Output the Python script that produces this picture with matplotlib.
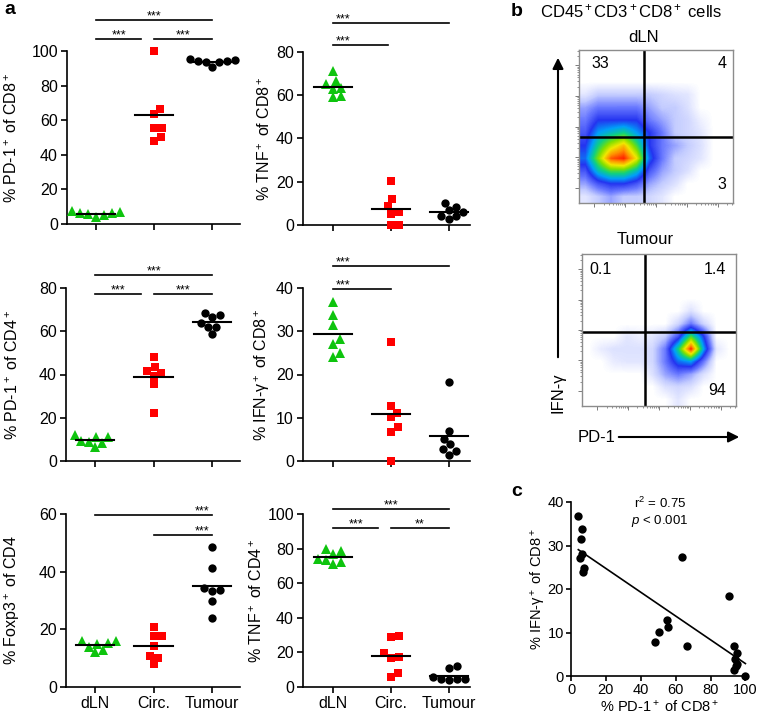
"""
Recreate: PD-1 / cytokine scatter dot plots, flow plots and correlation
"""
import matplotlib

matplotlib.use("Agg")
import matplotlib.pyplot as plt
import numpy as np
from matplotlib.colors import LinearSegmentedColormap

plt.rcParams["font.family"] = ["Liberation Sans", "DejaVu Sans"]
plt.rcParams["mathtext.fontset"] = "custom"
plt.rcParams["mathtext.rm"] = "Liberation Sans"
plt.rcParams["mathtext.it"] = "Liberation Sans:italic"
plt.rcParams["mathtext.default"] = "regular"

groups = ["dLN", "Circ.", "Tumour"]

# values (7 mice per group)
pd1_cd8_dln = [4.2, 6.1, 5.7, 6.5, 5.0, 7.7, 6.9]
pd1_cd8_circ = [63.4, 55.3, 55.7, 50.3, 48.0, 66.6, 100.0]
pd1_cd8_tum = [90.8, 93.7, 95.2, 94.0, 95.0, 94.5, 93.7]

tnf_cd8_dln = [71.0, 66.5, 65.0, 63.5, 63.0, 59.0, 59.5]
tnf_cd8_circ = [20.5, 11.9, 8.6, 6.0, 5.1, 0.0, 0.0]
tnf_cd8_tum = [10.2, 8.2, 6.9, 6.2, 4.2, 4.2, 2.6]

pd1_cd4_dln = [12.0, 8.9, 11.0, 11.0, 9.4, 8.2, 6.3]
pd1_cd4_circ = [48.2, 43.3, 41.8, 40.8, 39.4, 35.5, 22.3]
pd1_cd4_tum = [68.6, 66.7, 67.7, 61.8, 63.7, 62.1, 58.6]

ifn_cd8_dln = [36.8, 33.8, 31.4, 28.1, 27.1, 24.9, 24.0]
ifn_cd8_circ = [27.4, 12.8, 11.2, 10.1, 7.8, 6.8, 0.0]
ifn_cd8_tum = [18.3, 6.9, 5.2, 3.9, 2.8, 2.2, 1.4]

foxp3_cd4_dln = [16.1, 15.2, 12.3, 15.0, 12.8, 15.8, 14.0]
foxp3_cd4_circ = [20.9, 17.7, 17.7, 14.2, 10.9, 10.2, 7.9]
foxp3_cd4_tum = [48.7, 41.4, 33.4, 33.6, 34.2, 29.9, 23.8]

tnf_cd4_dln = [79.5, 78.5, 77.0, 74.0, 71.0, 72.0, 73.5]
tnf_cd4_circ = [28.7, 29.5, 19.5, 17.5, 16.6, 6.0, 7.9]
tnf_cd4_tum = [12.1, 10.8, 6.0, 4.8, 4.4, 4.4, 4.0]

# flow plots: rough event density per cell (0 = empty .. 9 = peak), top row first
dln_density = [
    [0, 0, 0, 0, 0, 0, 0, 0, 0, 0, 0, 0],
    [0, 0, 0, 0, 0, 0, 0, 0, 0, 0, 0, 0],
    [0, 0, 0, 0, 0, 0, 0, 0, 0, 0, 0, 0],
    [0.5, 1, 1, 1, 1, 1, 0.8, 0.6, 0.5, 0, 0, 0],
    [1.5, 2, 2, 2, 2, 1.5, 1, 1, 0.6, 0, 0, 0],
    [2, 3, 3, 3, 3, 2, 1.5, 1, 0.8, 0.3, 0, 0],
    [2.5, 4, 4.5, 5, 4, 3, 2, 1, 0.8, 0.5, 0, 0],
    [3, 5, 6.5, 7.5, 5.5, 3, 2, 1.5, 1, 0.6, 0, 0],
    [3.5, 6, 8.5, 9, 7, 3.5, 2, 1, 0.8, 0.5, 0, 0],
    [2.5, 4.5, 5.5, 5.5, 4.5, 2.5, 1.5, 1, 0.6, 0, 0, 0],
    [1.5, 2.5, 3, 3, 2.5, 1.5, 1, 0.6, 0, 0, 0, 0],
    [0.5, 1, 1.5, 1, 1, 0.8, 0.5, 0, 0, 0, 0, 0],
]
tumour_density = [
    [0, 0, 0, 0, 0, 0, 0, 0, 0, 0, 0, 0],
    [0, 0, 0, 0, 0, 0, 0, 0, 0, 0, 0, 0],
    [0, 0, 0, 0, 0, 0, 0, 0, 0, 0, 0, 0],
    [0, 0, 0, 0, 0, 0, 0, 0, 0, 0, 0, 0],
    [0, 0, 0, 0, 0, 0, 0, 0, 0.6, 0, 0, 0],
    [0, 0, 0, 0, 0, 0, 0, 0.8, 2, 0.8, 0, 0],
    [0, 0, 0, 0.5, 0.3, 0.5, 1, 2.5, 5.5, 3, 0, 0],
    [0, 0.4, 0.6, 0.6, 0.6, 0.8, 2, 5, 9, 4, 0.5, 0],
    [0, 0, 0.4, 0.5, 0.5, 0.8, 2, 3.5, 4, 2, 0, 0],
    [0, 0, 0, 0, 0, 0.6, 1.5, 2, 1.5, 0.6, 0, 0],
    [0, 0, 0, 0, 0, 0, 0.6, 0.8, 0.6, 0, 0, 0],
    [0, 0, 0, 0, 0, 0, 0, 0.5, 0, 0, 0, 0],
]
dln_quadrants = ["33", "4", "3"]
tumour_quadrants = ["0.1", "1.4", "94"]

r2_text = "r$^2$ = 0.75"
p_text = r"$\mathit{p}$ < 0.001"

W, H = 761, 724
fig = plt.figure(figsize=(W / 100, H / 100), dpi=100)


def add_px(l, t, r, b, **kw):
    return fig.add_axes([l / W, 1 - b / H, (r - l) / W, (b - t) / H], **kw)


def swarm(vals, ppu, d=8.0):
    # simple beeswarm in pixel space, returns x offsets in px
    vals = np.asarray(vals, dtype=float)
    cands = [0.0]
    for k in np.arange(0.5, 40, 0.5):
        cands += [k, -k]
    placed = []
    offs = np.zeros(len(vals))
    for i in np.argsort(vals):
        y = vals[i] * ppu
        for c in cands:
            if all((c - px) ** 2 + (y - py) ** 2 >= d * d for px, py in placed):
                break
        placed.append((c, y))
        offs[i] = c
    return offs


GREEN = "#0ec40e"
RED = "#ff0000"
markers = [("^", GREEN, 7.0), ("s", RED, 5.6), ("o", "k", 6.0)]

left_rect = [(67, 51, 240, 224), (66, 288, 240, 461), (66, 514, 240, 687)]
right_rect = [(303, 52, 470, 225), (303, 288, 470, 461), (303, 514, 470, 687)]

panels = [
    dict(rect=left_rect[0], xlim=(-0.5, 2.48), data=(pd1_cd8_dln, pd1_cd8_circ, pd1_cd8_tum),
         ymax=100, ystep=20, ylabel="% PD-1$^+$ of CD8$^+$", labx=-0.27,
         sig=[(0, 2, 118, "***", "c"), (0, 0.78, 106.8, "***", "c"), (1, 2, 106.8, "***", "c")]),
    dict(rect=right_rect[0], xlim=(-0.52, 2.37), data=(tnf_cd8_dln, tnf_cd8_circ, tnf_cd8_tum),
         ymax=80, ystep=20, ylabel="% TNF$^+$ of CD8$^+$", labx=-0.18,
         sig=[(0, 2, 93.3, "***", "l"), (0, 0.95, 83.1, "***", "l")]),
    dict(rect=left_rect[1], xlim=(-0.5, 2.48), data=(pd1_cd4_dln, pd1_cd4_circ, pd1_cd4_tum),
         ymax=80, ystep=20, ylabel="% PD-1$^+$ of CD4$^+$", labx=-0.26,
         sig=[(0, 2, 86, "***", "c"), (0, 0.78, 77.1, "***", "c"), (1, 2, 77.1, "***", "c")]),
    dict(rect=right_rect[1], xlim=(-0.52, 2.37), data=(ifn_cd8_dln, ifn_cd8_circ, ifn_cd8_tum),
         ymax=40, ystep=10, ylabel="% IFN-γ$^+$ of CD8$^+$", labx=-0.185,
         sig=[(0, 2, 45.1, "***", "l"), (0, 1, 39.8, "***", "l")]),
    dict(rect=left_rect[2], xlim=(-0.5, 2.48), data=(foxp3_cd4_dln, foxp3_cd4_circ, foxp3_cd4_tum),
         ymax=60, ystep=20, ylabel="% Foxp3$^+$ of CD4", labx=-0.25,
         sig=[(0, 2, 59.6, "***", "r"), (1, 2, 52.7, "***", "r")]),
    dict(rect=right_rect[2], xlim=(-0.52, 2.37), data=(tnf_cd4_dln, tnf_cd4_circ, tnf_cd4_tum),
         ymax=100, ystep=20, ylabel="% TNF$^+$ of CD4$^+$", labx=-0.23,
         sig=[(0, 2, 102.9, "***", "c"), (0, 0.78, 91.7, "***", "c"), (1, 2, 91.7, "**", "c")]),
]

for n, p in enumerate(panels):
    l, t, r, b = p["rect"]
    ax = add_px(l, t, r, b)
    ppu = (b - t) / p["ymax"]
    cat_px = (r - l) / (p["xlim"][1] - p["xlim"][0])
    for i, vals in enumerate(p["data"]):
        mk, col, ms = markers[i]
        offs = swarm(vals, ppu) / cat_px
        ax.plot(i + offs, vals, ls="none", marker=mk, color=col, ms=ms, mew=0,
                clip_on=False, zorder=3)
        m = np.mean(vals)
        ax.plot([i - 0.33, i + 0.33], [m, m], color="k", lw=1.5, zorder=4, clip_on=False)
    ax.set_xlim(*p["xlim"])
    ax.set_ylim(0, p["ymax"])
    ax.set_yticks(np.arange(0, p["ymax"] + 1, p["ystep"]))
    ax.set_xticks(range(3))
    if n >= 4:
        ax.set_xticklabels(groups, fontsize=11.5)
    else:
        ax.set_xticklabels([])
    for s in ("top", "right"):
        ax.spines[s].set_visible(False)
    for s in ("left", "bottom"):
        ax.spines[s].set_linewidth(1.2)
    ax.tick_params(width=1.2, length=4.5, labelsize=11.5, pad=2)
    ax.set_ylabel(p["ylabel"], fontsize=11.5)
    ax.yaxis.set_label_coords(p["labx"], 0.5)
    for x0, x1, y, lab, pos in p["sig"]:
        ax.plot([x0, x1], [y, y], color="k", lw=1.2, clip_on=False)
        if pos == "c":
            tx, ha = (x0 + x1) / 2, "center"
        elif pos == "l":
            tx, ha = x0 + 0.05, "left"
        else:
            tx, ha = x1 - 0.05, "right"
        ax.annotate(lab, (tx, y), xytext=(0, 0.5), textcoords="offset points",
                    ha=ha, va="baseline", fontsize=9, annotation_clip=False)

# flow plots
flow_cmap = LinearSegmentedColormap.from_list(
    "flow", ["#ffffff", "#c4ccff", "#6878ff", "#2434f0", "#00a0f8", "#10d080",
             "#80e000", "#f0e800", "#ff9000", "#ff2000"], N=256)


def log_ticks():
    major = [0.1, 0.3, 0.5, 0.7, 0.9]
    minor = []
    for m in major:
        for k in range(2, 10):
            v = m + 0.2 * np.log10(k)
            if v < 1:
                minor.append(v)
    return major, minor


def flow_panel(rect, grid, vx, hy, quads, qpos):
    ax = add_px(*rect)
    ax.imshow(np.array(grid, dtype=float), extent=(0, 1, 0, 1), cmap=flow_cmap, vmin=0, vmax=9,
              interpolation="bilinear", aspect="auto")
    ax.axvline(vx, color="k", lw=1.8)
    ax.axhline(hy, color="k", lw=1.8)
    ax.set_xlim(0, 1)
    ax.set_ylim(0, 1)
    major, minor = log_ticks()
    ax.set_xticks(major)
    ax.set_yticks(major)
    ax.set_xticks(minor, minor=True)
    ax.set_yticks(minor, minor=True)
    ax.set_xticklabels([])
    ax.set_yticklabels([])
    ax.tick_params(which="major", length=3, width=0.6, color="0.4")
    ax.tick_params(which="minor", length=1.5, width=0.5, color="0.4")
    for s in ax.spines.values():
        s.set_color("0.55")
        s.set_linewidth(1.0)
    for txt, (x, y) in zip(quads, qpos):
        ax.text(x, y, txt, transform=ax.transAxes, ha="center", va="center", fontsize=11.5)
    return ax


flow_panel((579, 50, 733, 203), dln_density, 0.42, 0.43, dln_quadrants,
           [(0.14, 0.91), (0.93, 0.91), (0.93, 0.12)])
flow_panel((582, 254, 736, 406), tumour_density, 0.41, 0.49, tumour_quadrants,
           [(0.12, 0.90), (0.86, 0.90), (0.88, 0.10)])

# correlation panel c
pd1_all = np.array(pd1_cd8_dln + pd1_cd8_circ + pd1_cd8_tum)
ifn_all = np.array(ifn_cd8_dln + ifn_cd8_circ + ifn_cd8_tum)
axc = add_px(571, 502, 748, 676)
axc.plot(pd1_all, ifn_all, "o", color="k", ms=6, mew=0, clip_on=False, zorder=3)
coef = np.polyfit(pd1_all, ifn_all, 1)
xs = np.array([pd1_all.min(), pd1_all.max()])
axc.plot(xs, np.polyval(coef, xs), color="k", lw=1.2)
axc.set_xlim(0, 101.5)
axc.set_ylim(0, 40)
axc.set_xticks(range(0, 101, 20))
axc.set_yticks(range(0, 41, 10))
for s in ("top", "right"):
    axc.spines[s].set_visible(False)
for s in ("left", "bottom"):
    axc.spines[s].set_linewidth(1.2)
axc.tick_params(width=1.2, length=3.5, labelsize=10.5, pad=1.5)
axc.set_xlabel("% PD-1$^+$ of CD8$^+$", fontsize=10.5, labelpad=1)
axc.set_ylabel("% IFN-γ$^+$ of CD8$^+$", fontsize=10.5)
axc.yaxis.set_label_coords(-0.13, 0.5)

# overlay for figure-level text and arrows (pixel coords)
ov = fig.add_axes([0, 0, 1, 1], zorder=10)
ov.set_xlim(0, W)
ov.set_ylim(H, 0)
ov.axis("off")
ov.text(10, 10, "a", fontsize=14, fontweight="bold", ha="center", va="center")
ov.text(517, 11, "b", fontsize=14, fontweight="bold", ha="center", va="center")
ov.text(517, 492, "c", fontsize=14, fontweight="bold", ha="center", va="center")
ov.text(540, 11, "CD45$^+$CD3$^+$CD8$^+$ cells", fontsize=12, ha="left", va="center")
ov.text(644, 38, "dLN", fontsize=12, ha="center", va="center")
ov.text(645, 240, "Tumour", fontsize=12, ha="center", va="center")
ov.annotate("", xy=(558, 55), xytext=(558, 360),
            arrowprops=dict(arrowstyle="-|>", lw=1.5, color="k", mutation_scale=16))
ov.text(558, 393, "IFN-γ", fontsize=12, rotation=90, ha="center", va="center")
ov.annotate("", xy=(742, 437), xytext=(616, 437),
            arrowprops=dict(arrowstyle="-|>", lw=1.5, color="k", mutation_scale=16))
ov.text(597, 437, "PD-1", fontsize=12, ha="center", va="center")
ov.text(660, 503, r2_text, fontsize=9.5, ha="center", va="center")
ov.text(660, 521, p_text, fontsize=9.5, ha="center", va="center")

fig.savefig("out.png", dpi=100)
